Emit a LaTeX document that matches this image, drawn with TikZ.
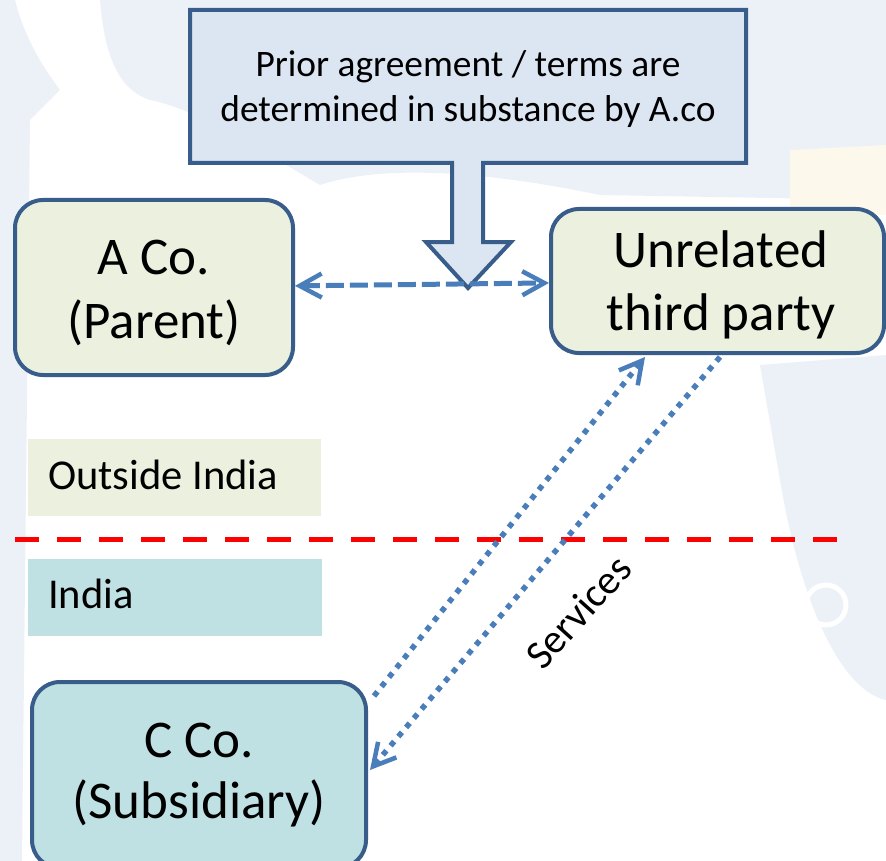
\documentclass[tikz,border=0pt]{standalone}
\usepackage{fontspec}
\setmainfont{Carlito}
\usetikzlibrary{arrows.meta,calc}
\definecolor{edgeblue}{HTML}{385D8A}
\definecolor{linkblue}{HTML}{4A7EBB}
\definecolor{palegreen}{HTML}{EBF1DE}
\definecolor{paleteal}{HTML}{BFE1E3}
\definecolor{paleblue}{HTML}{DCE6F2}
\definecolor{haze}{HTML}{ECF1F8}
\definecolor{cream}{HTML}{FCF9EC}
\tikzset{
  barb/.tip={Straight Barb[length=22pt, width=24pt, line width=4.5pt]},
  entity/.style={draw=edgeblue, line width=4pt, rounded corners=28pt, inner sep=0pt},
  entitytext/.style={anchor=base, inner sep=0pt, font=\fontsize{53}{63}\selectfont},
  region/.style={anchor=north west, inner sep=0pt},
  regiontext/.style={anchor=base west, inner sep=0pt, font=\fontsize{42.5}{50}\selectfont},
  calloutext/.style={anchor=base, inner sep=0pt, font=\fontsize{37.4}{45}\selectfont},
  dealline/.style={draw=linkblue, line width=5pt, dash pattern=on 18pt off 6pt,
    arrows={barb-barb}},
  servline/.style={draw=linkblue, line width=5.5pt, dash pattern=on 5.5pt off 6.5pt},
  border/.style={draw=red, line width=5pt, dash pattern=on 24pt off 18pt}
}
\begin{document}
\begin{tikzpicture}[x=1pt,y=-1pt]
\useasboundingbox (0,0) rectangle (886,861);
\fill[white] (0,0) rectangle (886,861);

% soft backdrop
\fill[haze] (100,0) -- (886,0) -- (886,200) -- (600,195)
  .. controls (480,170) and (380,165) .. (320,185)
  .. controls (260,150) and (200,110) .. (150,100)
  .. controls (120,90) and (105,60) .. (100,0) -- cycle;
\fill[haze] (0,0) -- (15,0) .. controls (25,40) and (45,70) .. (60,90)
  -- (30,120) -- (22,861) -- (0,861) -- cycle;
\fill[cream] (790,150) -- (886,145) -- (886,215) -- (790,210) -- cycle;
\fill[haze] (760,365) -- (886,355) -- (886,700)
  .. controls (840,690) and (800,600) .. (780,480) -- cycle;
\draw[white, line width=5pt] (826,605) circle[radius=20pt];

% callout with the downward pointer
\draw[fill=paleblue, draw=edgeblue, line width=4pt, line join=miter]
  (190,10) -- (746,10) -- (746,163) -- (483,163) -- (483,242) -- (511,242)
  -- (468,288) -- (426,242) -- (452,242) -- (452,163) -- (190,163) -- cycle;
\node[calloutext] (terms1) at (468,77) {Prior agreement / terms are};
\node[calloutext] (terms2) at (468,122) {determined in substance by A.co};

% entities
\node[entity, fill=palegreen, minimum width=278pt, minimum height=175pt] (a)
  at (154,287.5) {};
\node[entitytext] (a1) at (154,274) {A Co.};
\node[entitytext] (a2) at (154,338) {(Parent)};
\node[entity, fill=palegreen, minimum width=333pt, minimum height=144pt] (u)
  at (717.5,281) {};
\node[entitytext] (u1) at (721,267) {Unrelated};
\node[entitytext] (u2) at (721,330) {third party};
\node[entity, fill=paleteal, minimum width=334pt, minimum height=186pt] (c)
  at (199,775) {};
\node[entitytext] (c1) at (199,757) {C Co.};
\node[entitytext] (c2) at (199,818) {(Subsidiary)};

% jurisdiction labels
\node[region, fill=palegreen, minimum width=293pt, minimum height=77pt] (out)
  at (28,439) {};
\node[regiontext] (outtext) at (48,489) {Outside India};
\node[region, fill=paleteal, minimum width=294pt, minimum height=77pt] (in)
  at (28,559) {};
\node[regiontext] (intext) at (48,608) {India};

% border between the two jurisdictions
\coordinate (bl) at (15,539);
\coordinate (br) at (838,539);
\draw[border] (bl) -- (br);

% dealings
\draw[dealline] (a) -- (u);
\draw[servline, arrows={-barb}] ($(c.north east)+(6,16)$) -- ($(u.south)+(-72.5,2)$);
\draw[servline, arrows={-barb}] ($(u.south)+(2.5,2)$) -- ($(c.east)+(2,-5)$);
\node[rotate=48, font=\fontsize{41}{49}\selectfont] (serv) at (578,612) {Services};
\end{tikzpicture}
\end{document}
